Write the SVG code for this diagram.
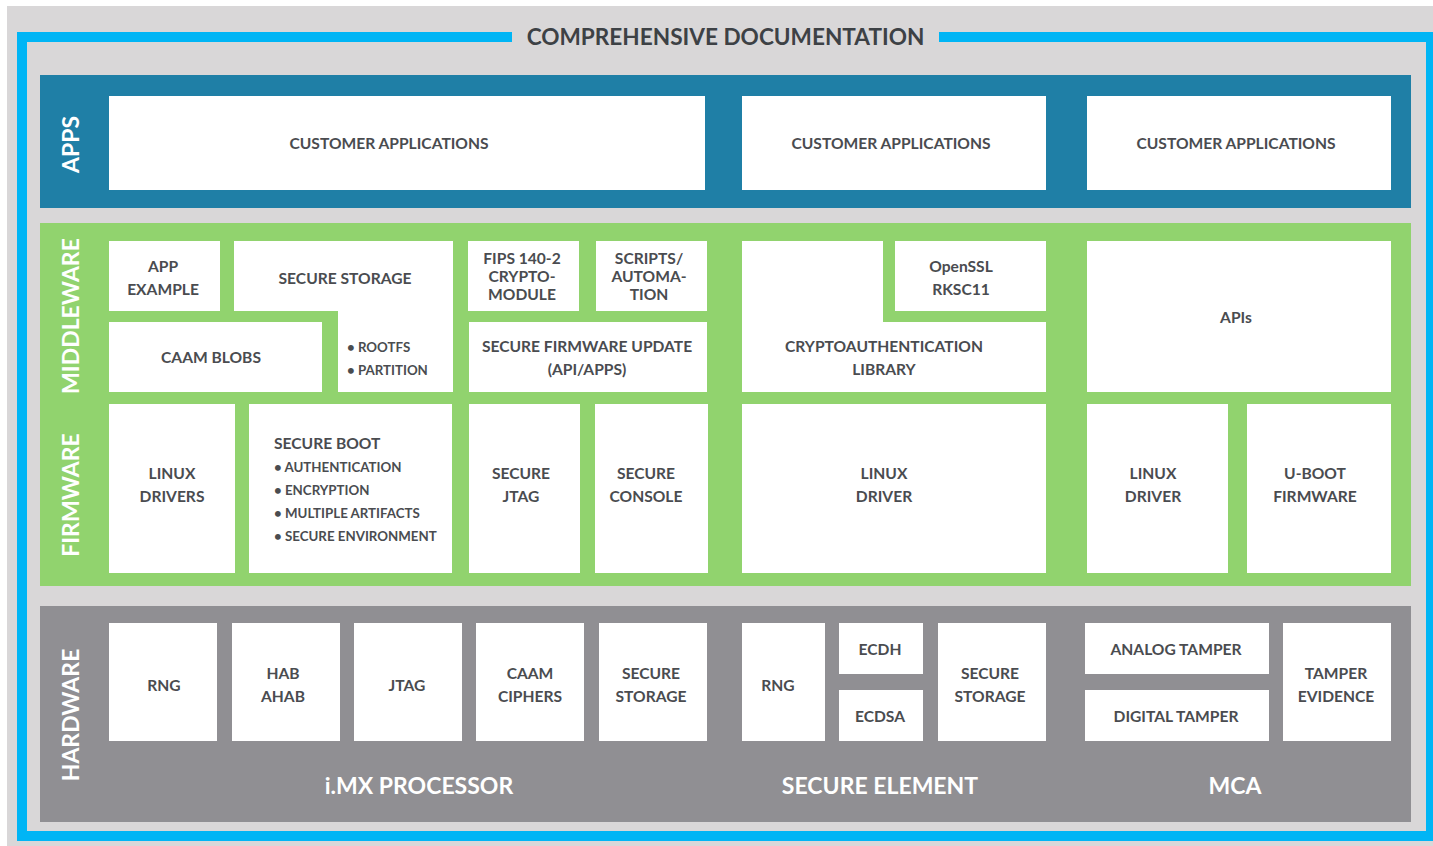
<svg xmlns="http://www.w3.org/2000/svg" width="1433" height="846" viewBox="0 0 1433 846">
  <style>
    .bg { fill: #d9d7d8; }
    .frame { fill: none; stroke: #00b5f5; stroke-width: 10; }
    .apps { fill: #1f7fa6; }
    .green { fill: #91d36e; }
    .hw { fill: #908f93; }
    .box { fill: #ffffff; }
    text { font-family: Lato, "Liberation Sans", sans-serif; }
    .t { font-size: 15.6px; font-weight: 700; fill: #4a4c50; text-anchor: middle; dominant-baseline: central; }
    .tl { font-size: 15.6px; font-weight: 700; fill: #4a4c50; dominant-baseline: central; }
    .li { font-size: 13.3px; font-weight: 700; fill: #4a4c50; dominant-baseline: central; }
    .side { font-size: 23px; font-weight: 700; fill: #ffffff; text-anchor: middle; dominant-baseline: central; }
    .grp { font-size: 23px; font-weight: 700; fill: #ffffff; text-anchor: middle; dominant-baseline: central; }
    .title { font-size: 22.6px; font-weight: 700; fill: #3d4145; text-anchor: middle; dominant-baseline: central; }
  </style>

  <!-- page background -->
  <rect class="bg" x="7" y="6" width="1426" height="840"/>

  <!-- outer frame, open at the top for the heading -->
  <path class="frame" d="M512,37 H22 V836 H1431 V37 H939"/>
  <text id="title" class="title" x="725.5" y="36.5">COMPREHENSIVE DOCUMENTATION</text>

  <!-- layer panels -->
  <rect id="layer-apps" class="apps" x="40" y="75" width="1371" height="133"/>
  <rect id="layer-sw" class="green" x="40" y="223" width="1371" height="363"/>
  <rect id="layer-hw" class="hw" x="40" y="606" width="1371" height="216"/>

  <!-- layer captions -->
  <text class="side" transform="translate(70,144.5) rotate(-90)">APPS</text>
  <text class="side" transform="translate(70,316) rotate(-90)">MIDDLEWARE</text>
  <text class="side" transform="translate(70,495) rotate(-90)">FIRMWARE</text>
  <text class="side" transform="translate(70,715) rotate(-90)">HARDWARE</text>

  <!-- APPS -->
  <g id="apps-imx">
    <rect class="box" x="109" y="96" width="596" height="94"/>
    <text class="t" x="389" y="143">CUSTOMER APPLICATIONS</text>
  </g>
  <g id="apps-se">
    <rect class="box" x="742" y="96" width="304" height="94"/>
    <text class="t" x="891" y="143">CUSTOMER APPLICATIONS</text>
  </g>
  <g id="apps-mca">
    <rect class="box" x="1087" y="96" width="304" height="94"/>
    <text class="t" x="1236" y="143">CUSTOMER APPLICATIONS</text>
  </g>

  <!-- MIDDLEWARE -->
  <g id="mw-app-example">
    <rect class="box" x="109" y="241" width="111" height="70"/>
    <text class="t" x="163" y="266">APP</text>
    <text class="t" x="163" y="289">EXAMPLE</text>
  </g>
  <g id="mw-secure-storage">
    <path class="box" d="M234,241 H453 V392 H338 V311 H234 Z"/>
    <text class="t" x="345" y="278">SECURE STORAGE</text>
    <text class="li" x="347" y="347">• ROOTFS</text>
    <text class="li" x="347" y="370">• PARTITION</text>
  </g>
  <g id="mw-caam-blobs">
    <rect class="box" x="109" y="322" width="213" height="70"/>
    <text class="t" x="211" y="357">CAAM BLOBS</text>
  </g>
  <g id="mw-fips">
    <rect class="box" x="468" y="241" width="111" height="70"/>
    <text class="t" x="522" y="258">FIPS 140-2</text>
    <text class="t" x="522" y="276">CRYPTO-</text>
    <text class="t" x="522" y="294">MODULE</text>
  </g>
  <g id="mw-scripts">
    <rect class="box" x="596" y="241" width="111" height="70"/>
    <text class="t" x="649" y="258">SCRIPTS/</text>
    <text class="t" x="649" y="276">AUTOMA-</text>
    <text class="t" x="649" y="294">TION</text>
  </g>
  <g id="mw-fw-update">
    <rect class="box" x="469" y="322" width="238" height="70"/>
    <text class="t" x="587" y="346">SECURE FIRMWARE UPDATE</text>
    <text class="t" x="587" y="369">(API/APPS)</text>
  </g>
  <g id="mw-cryptoauth">
    <path class="box" d="M742,241 H883 V322 H1046 V392 H742 Z"/>
    <text class="t" x="884" y="346">CRYPTOAUTHENTICATION</text>
    <text class="t" x="884" y="369">LIBRARY</text>
  </g>
  <g id="mw-openssl">
    <rect class="box" x="895" y="241" width="151" height="70"/>
    <text class="t" x="961" y="266">OpenSSL</text>
    <text class="t" x="961" y="289">RKSC11</text>
  </g>
  <g id="mw-apis">
    <rect class="box" x="1087" y="241" width="304" height="151"/>
    <text class="t" x="1236" y="317">APIs</text>
  </g>

  <!-- FIRMWARE -->
  <g id="fw-linux-drivers">
    <rect class="box" x="109" y="404" width="126" height="169"/>
    <text class="t" x="172" y="473">LINUX</text>
    <text class="t" x="172" y="496">DRIVERS</text>
  </g>
  <g id="fw-secure-boot">
    <rect class="box" x="249" y="404" width="203" height="169"/>
    <text class="tl" x="274" y="443">SECURE BOOT</text>
    <text class="li" x="274" y="467">• AUTHENTICATION</text>
    <text class="li" x="274" y="490">• ENCRYPTION</text>
    <text class="li" x="274" y="513">• MULTIPLE ARTIFACTS</text>
    <text class="li" x="274" y="536">• SECURE ENVIRONMENT</text>
  </g>
  <g id="fw-secure-jtag">
    <rect class="box" x="469" y="404" width="111" height="169"/>
    <text class="t" x="521" y="473">SECURE</text>
    <text class="t" x="521" y="496">JTAG</text>
  </g>
  <g id="fw-secure-console">
    <rect class="box" x="595" y="404" width="113" height="169"/>
    <text class="t" x="646" y="473">SECURE</text>
    <text class="t" x="646" y="496">CONSOLE</text>
  </g>
  <g id="fw-se-linux-driver">
    <rect class="box" x="742" y="404" width="304" height="169"/>
    <text class="t" x="884" y="473">LINUX</text>
    <text class="t" x="884" y="496">DRIVER</text>
  </g>
  <g id="fw-mca-linux-driver">
    <rect class="box" x="1087" y="404" width="141" height="169"/>
    <text class="t" x="1153" y="473">LINUX</text>
    <text class="t" x="1153" y="496">DRIVER</text>
  </g>
  <g id="fw-uboot">
    <rect class="box" x="1247" y="404" width="144" height="169"/>
    <text class="t" x="1315" y="473">U-BOOT</text>
    <text class="t" x="1315" y="496">FIRMWARE</text>
  </g>

  <!-- HARDWARE -->
  <g id="hw-imx-rng">
    <rect class="box" x="109" y="623" width="108" height="118"/>
    <text class="t" x="164" y="685">RNG</text>
  </g>
  <g id="hw-hab">
    <rect class="box" x="232" y="623" width="108" height="118"/>
    <text class="t" x="283" y="673">HAB</text>
    <text class="t" x="283" y="696">AHAB</text>
  </g>
  <g id="hw-jtag">
    <rect class="box" x="354" y="623" width="108" height="118"/>
    <text class="t" x="407" y="685">JTAG</text>
  </g>
  <g id="hw-caam">
    <rect class="box" x="476" y="623" width="108" height="118"/>
    <text class="t" x="530" y="673">CAAM</text>
    <text class="t" x="530" y="696">CIPHERS</text>
  </g>
  <g id="hw-imx-storage">
    <rect class="box" x="599" y="623" width="108" height="118"/>
    <text class="t" x="651" y="673">SECURE</text>
    <text class="t" x="651" y="696">STORAGE</text>
  </g>
  <g id="hw-se-rng">
    <rect class="box" x="742" y="623" width="83" height="118"/>
    <text class="t" x="778" y="685">RNG</text>
  </g>
  <g id="hw-ecdh">
    <rect class="box" x="839" y="623" width="84" height="51"/>
    <text class="t" x="880" y="649">ECDH</text>
  </g>
  <g id="hw-ecdsa">
    <rect class="box" x="839" y="690" width="84" height="51"/>
    <text class="t" x="880" y="716">ECDSA</text>
  </g>
  <g id="hw-se-storage">
    <rect class="box" x="938" y="623" width="108" height="118"/>
    <text class="t" x="990" y="673">SECURE</text>
    <text class="t" x="990" y="696">STORAGE</text>
  </g>
  <g id="hw-analog-tamper">
    <rect class="box" x="1085" y="623" width="184" height="51"/>
    <text class="t" x="1176" y="649">ANALOG TAMPER</text>
  </g>
  <g id="hw-digital-tamper">
    <rect class="box" x="1085" y="690" width="184" height="51"/>
    <text class="t" x="1176" y="716">DIGITAL TAMPER</text>
  </g>
  <g id="hw-tamper-evidence">
    <rect class="box" x="1283" y="623" width="108" height="118"/>
    <text class="t" x="1336" y="673">TAMPER</text>
    <text class="t" x="1336" y="696">EVIDENCE</text>
  </g>

  <!-- hardware group captions -->
  <text class="grp" x="419" y="785">i.MX PROCESSOR</text>
  <text class="grp" x="880" y="785">SECURE ELEMENT</text>
  <text class="grp" x="1235" y="785">MCA</text>

  <!-- no connectors in this diagram -->
  <g id="connectors"/>
</svg>
